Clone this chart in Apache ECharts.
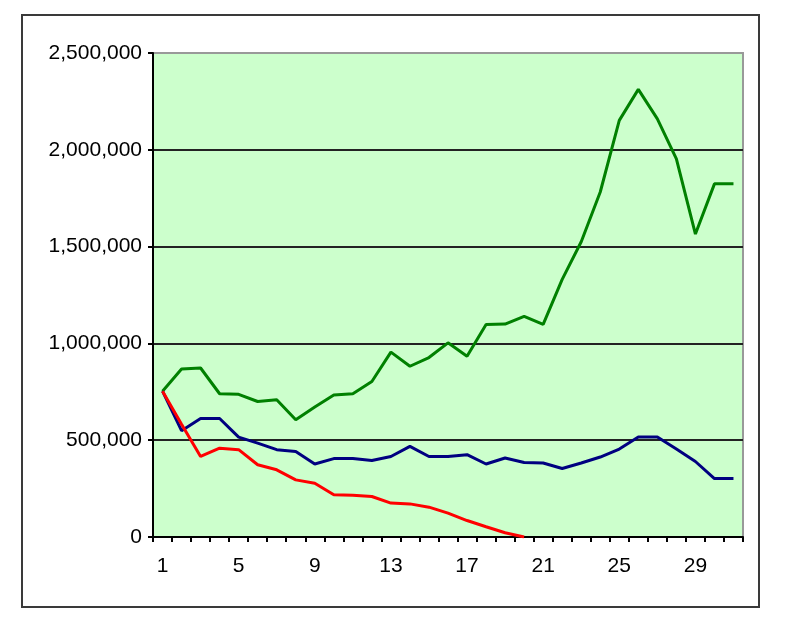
<!DOCTYPE html>
<html>
<head>
<meta charset="utf-8">
<script src="https://cdn.jsdelivr.net/npm/echarts@6/dist/echarts.min.js"></script>
<style>
html,body{margin:0;padding:0;background:#fff;}
#chart{width:786px;height:622px;}
</style>
</head>
<body>
<div id="chart"></div>
<script>
var categories = [];
for (var i = 1; i <= 31; i++) categories.push(String(i));

var greenValues = [753000, 868000, 873000, 740000, 737000, 700000, 709000, 606000, 672000, 734000, 740000, 803000, 955000, 882000, 927000, 1003000, 934000, 1098000, 1100000, 1140000, 1098000, 1331000, 1525000, 1782000, 2152000, 2312000, 2160000, 1953000, 1565000, 1824000, 1824000];
var blueValues = [753000, 549000, 612000, 612000, 516000, 485000, 451000, 442000, 377000, 405000, 405000, 395000, 416000, 468000, 416000, 416000, 425000, 377000, 408000, 385000, 382000, 354000, 382000, 413000, 454000, 516000, 516000, 454000, 390000, 302000, 302000];
var redValues = [753000, 582000, 416000, 459000, 451000, 373000, 347000, 295000, 278000, 218000, 216000, 209000, 175000, 171000, 154000, 123000, 85000, 53000, 22000, 0];

var yMin = 0, yMax = 2500000, yStep = 500000;

var chart = echarts.init(document.getElementById('chart'));
var font = "'Liberation Sans', Arial, sans-serif";
chart.setOption({
  animation: false,
  backgroundColor: '#ffffff',
  graphic: [{
    type: 'rect',
    z: -10,
    shape: { x: 22, y: 15, width: 737, height: 592 },
    style: { fill: 'none', stroke: '#3a3a3a', lineWidth: 2 }
  }],
  grid: {
    left: 153, right: 43, top: 53, bottom: 85,
    show: true,
    backgroundColor: '#CCFFCC',
    borderColor: '#999999',
    borderWidth: 2
  },
  xAxis: {
    type: 'category',
    data: categories,
    boundaryGap: true,
    axisLine: { show: true, onZero: false, lineStyle: { color: '#000', width: 2 } },
    axisTick: { show: true, interval: 0, length: 5, lineStyle: { color: '#000', width: 2 } },
    axisLabel: { interval: 3, margin: 19, fontSize: 21, fontFamily: font, color: '#000' },
    splitLine: { show: false }
  },
  yAxis: {
    type: 'value',
    min: yMin, max: yMax, interval: yStep,
    axisLine: { show: true, lineStyle: { color: '#000', width: 2 } },
    axisTick: { show: true, length: 5, lineStyle: { color: '#000', width: 2 } },
    axisLabel: {
      margin: 11, fontSize: 21, fontFamily: font, color: '#000',
      formatter: function (v) { return v.toString().replace(/\B(?=(\d{3})+(?!\d))/g, ','); }
    },
    splitLine: { show: true, showMaxLine: false, showMinLine: false, lineStyle: { color: '#222', width: 2 } }
  },
  series: [
    { type: 'line', data: greenValues, symbol: 'none', lineStyle: { color: '#008000', width: 3 }, itemStyle: { color: '#008000' } },
    { type: 'line', data: blueValues, symbol: 'none', lineStyle: { color: '#000080', width: 3 }, itemStyle: { color: '#000080' } },
    { type: 'line', data: redValues, symbol: 'none', lineStyle: { color: '#FF0000', width: 3 }, itemStyle: { color: '#FF0000' } }
  ]
});
</script>
</body>
</html>
